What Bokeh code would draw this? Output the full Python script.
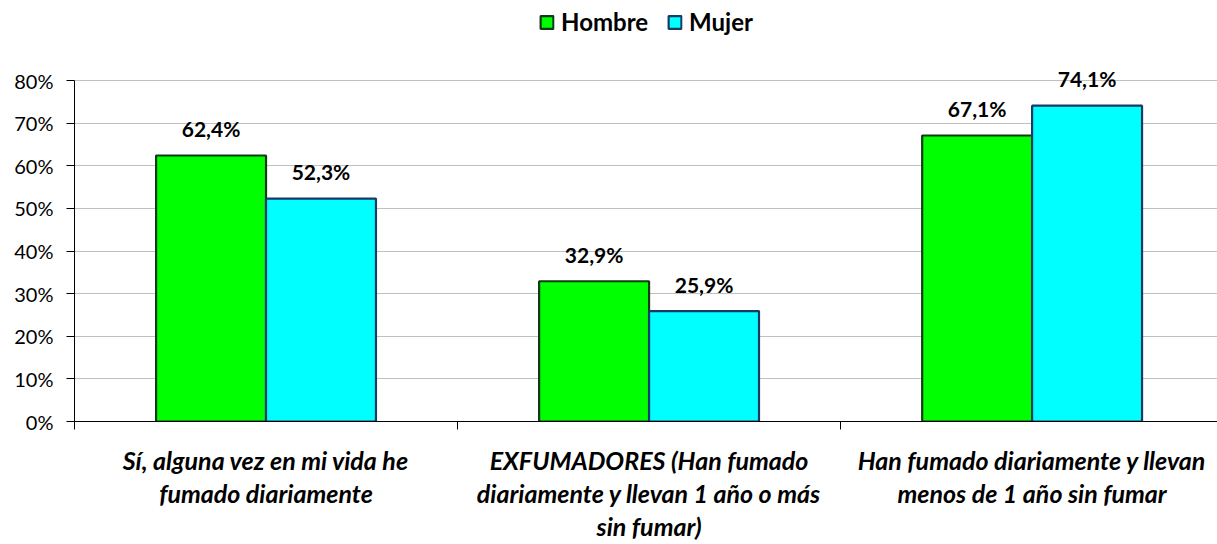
from bokeh.plotting import figure
from bokeh.models import (Range1d, FixedTicker, LinearAxis, Legend, LegendItem,
                          Grid, CustomJSTickFormatter)
from bokeh.core.properties import value
from bokeh.embed import file_html
from bokeh.resources import INLINE

categories = [
    "Sí, alguna vez en mi vida he\nfumado diariamente",
    "EXFUMADORES (Han fumado\ndiariamente y llevan 1 año o más\nsin fumar)",
    "Han fumado diariamente y llevan\nmenos de 1 año sin fumar",
]
series_names = ["Hombre", "Mujer"]
hombre = [0.624, 0.329, 0.671]
mujer = [0.523, 0.259, 0.741]
y_ticks = [0.0, 0.1, 0.2, 0.3, 0.4, 0.5, 0.6, 0.7, 0.8]
y_tick_labels = ["0%", "10%", "20%", "30%", "40%", "50%", "60%", "70%", "80%"]

FONT = "Lato"
BAR_W = 0.287
n = len(categories)
centers = [i + 0.5 for i in range(n)]

p = figure(width=1217, height=544, x_range=Range1d(0, 2.984), y_range=Range1d(0, 0.9877),
           x_axis_location=None, y_axis_location=None, output_backend="svg",
           toolbar_location=None, min_border_left=74, min_border_right=0,
           min_border_top=0, min_border_bottom=123)
p.outline_line_color = None
p.xgrid.visible = False
p.ygrid.visible = False

grid = Grid(dimension=1, ticker=FixedTicker(ticks=y_ticks[1:]),
            grid_line_color="#c0c0c0", grid_line_width=1)
p.add_layout(grid)

yaxis = LinearAxis(ticker=FixedTicker(ticks=y_ticks), bounds=(0, 0.8),
                   major_label_overrides={t: l for t, l in zip(y_ticks, y_tick_labels)},
                   major_tick_in=0, major_tick_out=8, minor_tick_out=0, minor_tick_in=0,
                   axis_line_color="black", major_tick_line_color="black",
                   major_label_text_font=FONT, major_label_text_font_size="20px",
                   major_label_text_color="black", major_label_standoff=13)
p.add_layout(yaxis, "left")

xfmt = CustomJSTickFormatter(args=dict(labels=categories),
                             code="return labels[Math.floor(tick)];")
xaxis = LinearAxis(ticker=FixedTicker(ticks=centers, minor_ticks=list(range(n + 1))),
                   formatter=xfmt,
                   major_tick_in=0, major_tick_out=0, minor_tick_in=0, minor_tick_out=8,
                   axis_line_color="black", minor_tick_line_color="black",
                   major_label_text_font=FONT, major_label_text_font_size="25px",
                   major_label_text_font_style="bold italic",
                   major_label_text_color="black", major_label_text_line_height=1.1,
                   major_label_standoff=15)
p.add_layout(xaxis, "below")

xh = [c - BAR_W / 2 for c in centers]
xm = [c + BAR_W / 2 for c in centers]

r1 = p.vbar(x=xh, top=hombre, width=BAR_W, bottom=0, fill_color="#00ff00",
            line_color="#123a12", line_width=2.2)
r2 = p.vbar(x=xm, top=mujer, width=BAR_W, bottom=0, fill_color="#00ffff",
            line_color="#1a3a66", line_width=2.2)

def fmt(v):
    return ("%.1f%%" % (v * 100)).replace(".", ",")

for xs, vals in ((xh, hombre), (xm, mujer)):
    p.text(x=xs, y=vals, text=[fmt(v) for v in vals], text_align="center",
           text_baseline="middle", y_offset=-27, text_font=value(FONT),
           text_font_size="21px", text_font_style="bold", text_color="black")

legend = Legend(items=[LegendItem(label=series_names[0], renderers=[r1]),
                       LegendItem(label=series_names[1], renderers=[r2])],
                orientation="horizontal", location="top_center",
                margin=7, padding=8, spacing=18, label_standoff=7,
                glyph_width=16, glyph_height=16,
                label_text_font=FONT, label_text_font_size="24px",
                label_text_font_style="bold", label_text_color="black",
                border_line_color=None, background_fill_alpha=0)
p.add_layout(legend, "center")

open("out.html", "w").write(file_html(p, INLINE))
